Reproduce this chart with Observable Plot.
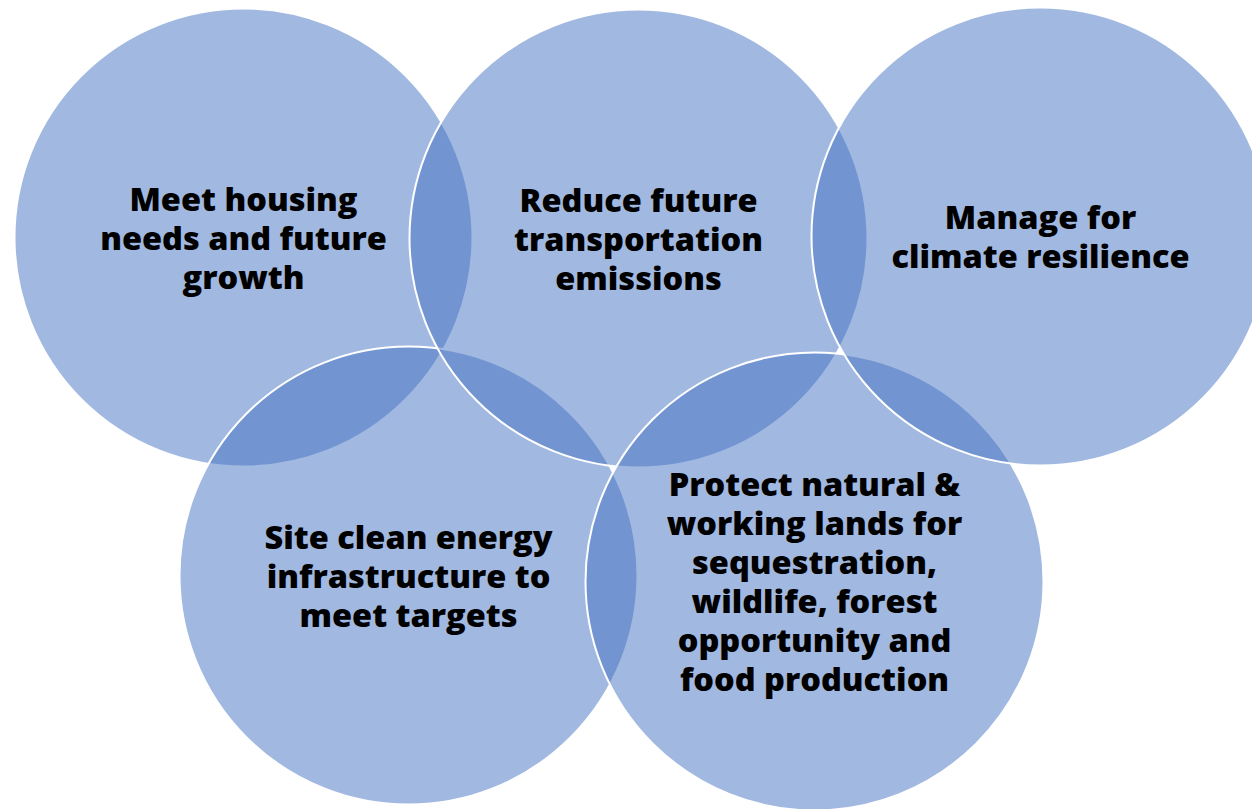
<!DOCTYPE html>
<html>
<head>
<meta charset="utf-8">
<script src="https://cdn.jsdelivr.net/npm/d3@7"></script>
<script src="https://cdn.jsdelivr.net/npm/@observablehq/plot@0.6"></script>
<style>
  html, body { margin: 0; padding: 0; background: #ffffff; }
  #chart svg { display: block; }
</style>
</head>
<body>
<div id="chart"></div>
<script>
// Goals (in drawing order, back to front)
const labels = [
  "Meet housing\nneeds and future\ngrowth",
  "Site clean energy\ninfrastructure to\nmeet targets",
  "Reduce future\ntransportation\nemissions",
  "Protect natural &\nworking lands for\nsequestration,\nwildlife, forest\nopportunity and\nfood production",
  "Manage for\nclimate resilience"
];
// circle centres (pixel space)
const centerX = [243, 408, 638, 814, 1040];
const centerY = [237, 575, 238, 581, 236];

const data = labels.map((label, i) => ({label, x: centerX[i], y: centerY[i]}));

const W = 1252, H = 809;

const chart = Plot.plot({
  width: W,
  height: H,
  margin: 0,
  x: {domain: [0, W], range: [0, W], axis: null},
  y: {domain: [0, H], range: [0, H], axis: null},
  style: {background: "#ffffff", overflow: "hidden"},
  marks: [
    Plot.dot(data, {
      x: "x", y: "y", r: 229,
      fill: "#4472C4", fillOpacity: 0.5,
      stroke: "#ffffff", strokeWidth: 2
    }),
    Plot.text(data, {
      x: "x", y: "y", text: "label",
      fontSize: 32.5, fontWeight: 800,
      fontFamily: "'Open Sans', Lato, sans-serif",
      lineHeight: 1.2,
      lineAnchor: "middle", textAnchor: "middle",
      fill: "#000000"
    })
  ]
});
document.getElementById("chart").appendChild(chart);
</script>
</body>
</html>
